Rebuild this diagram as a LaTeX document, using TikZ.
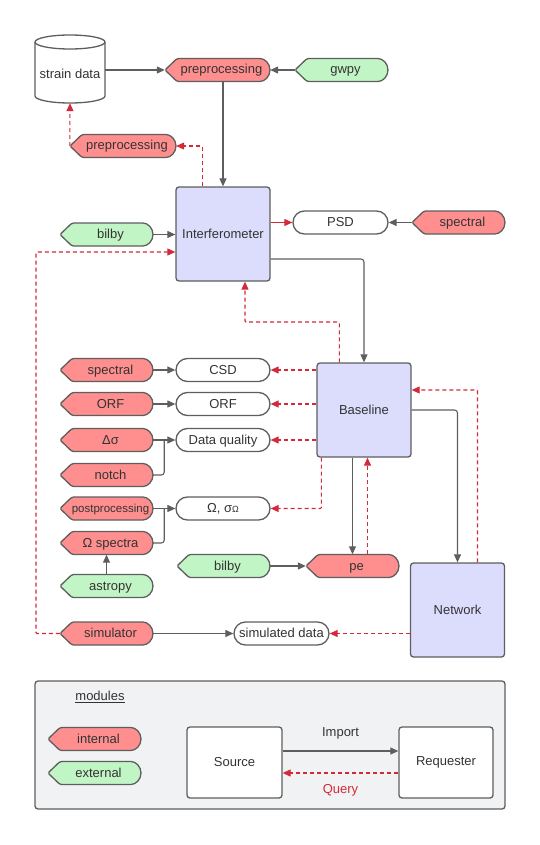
\documentclass[tikz,border=0pt]{standalone}
\usepackage{fontspec}
\setmainfont{Liberation Sans}
\usetikzlibrary{arrows.meta,calc}
\definecolor{edge}{HTML}{5E5E5E}
\definecolor{qred}{HTML}{D22A3A}
\definecolor{redf}{HTML}{FF8F8F}
\definecolor{greenf}{HTML}{C2F5C5}
\definecolor{lav}{HTML}{DCDCFD}
\definecolor{legbg}{HTML}{F1F2F4}
\definecolor{txt}{HTML}{333333}
\tikzset{
 tip/.style={-{Triangle[length=8pt,width=7pt]}},
 conn/.style={draw=edge, line width=1.1pt, tip, rounded corners=3pt},
 plain/.style={draw=edge, line width=1.1pt, rounded corners=3pt},
 query/.style={draw=qred, line width=1.1pt, dash pattern=on 4pt off 3pt, tip, rounded corners=1pt},
 qsolid/.style={draw=qred, line width=1.1pt, tip},
 outl/.style={draw=edge, line width=1.3pt},
 classbox/.style={outl, fill=lav, rounded corners=3pt, minimum width=94pt, minimum height=94pt, inner sep=0pt, text=txt},
 pill/.style={outl, fill=white, rounded corners=11.5pt, minimum width=94pt, minimum height=23pt, inner sep=0pt, text=txt, text height=10pt, text depth=2pt},
 modtext/.style={minimum height=23pt, inner sep=0pt, text=txt, text height=10pt, text depth=2pt},
 whitebox/.style={outl, fill=white, rounded corners=3pt, minimum width=95pt, minimum height=71pt, inner sep=0pt, text=txt}
}
\newcommand\mymodule[6]{%
 \draw[outl, fill=#5, rounded corners=1.5pt] (#2,#4) -- ({#2+12},{#4-11.5}) -- ({#3-11.5},{#4-11.5}) arc[start angle=90, end angle=-90, radius=11.5pt] -- ({#2+12},{#4+11.5}) -- cycle;
 \node[modtext, minimum width=(#3-#2)*1pt] (#1) at ({(#2+#3)/2},#4) {\hspace*{8pt}#6};
}
\begin{document}
\begin{tikzpicture}[x=1pt, y=-1pt, font=\fontsize{13}{15}\selectfont]
\useasboundingbox (0,0) rectangle (540,845);
% legend background
\node[outl, fill=legbg, rounded corners=3pt, minimum width=470pt, minimum height=128pt, inner sep=0pt] (legend) at (270,745) {};
% cylinder
\draw[outl, fill=white] (35,42) -- (35,96) arc[start angle=180,end angle=360,x radius=35pt,y radius=7pt] -- (105,42) arc[start angle=0,end angle=180,x radius=35pt,y radius=7pt] -- cycle;
\draw[outl] (35,42) arc[start angle=180,end angle=360,x radius=35pt,y radius=7pt];
\node[minimum width=70pt, minimum height=58pt, inner sep=0pt, text=txt] (strain) at (70,74) {strain data};
% modules
\mymodule{pp1}{165}{270}{70}{redf}{preprocessing}
\mymodule{gwpy}{295}{388}{70}{greenf}{gwpy}
\mymodule{pp2}{70}{176}{146}{redf}{preprocessing}
\mymodule{spec1}{412}{505}{222.5}{redf}{spectral}
\mymodule{bilby1}{60}{153}{234.5}{greenf}{bilby}
\mymodule{spec2}{60}{153}{370}{redf}{spectral}
\mymodule{orfm}{60}{153}{404}{redf}{ORF}
\mymodule{dsig}{60}{153}{440}{redf}{Δσ}
\mymodule{notch}{60}{153}{475}{redf}{notch}
\mymodule{post}{60}{153}{508.5}{redf}{\fontsize{11.5}{13}\selectfont postprocessing}
\mymodule{omspec}{60}{153}{543}{redf}{Ω spectra}
\mymodule{astropy}{60}{153}{586}{greenf}{astropy}
\mymodule{bilby2}{177}{270}{566}{greenf}{bilby}
\mymodule{pe}{306}{399}{566}{redf}{pe}
\mymodule{simulator}{60}{153}{633.5}{redf}{simulator}
\mymodule{internal}{48}{141}{739}{redf}{internal}
\mymodule{external}{48}{141}{773}{greenf}{external}
% class boxes
\node[classbox] (ifo) at (223,234) {Interferometer};
\node[classbox] (baseline) at (364,410) {Baseline};
\node[classbox] (network) at (457.5,610) {Network};
% pills
\node[pill, minimum width=95pt] (psd) at (340.5,222.5) {PSD};
\node[pill] (csd) at (223,370) {CSD};
\node[pill] (orf) at (223,404) {ORF};
\node[pill] (dq) at (223,440) {Data quality};
\node[pill] (omega) at (223,508.5) {Ω, σ{\fontsize{9}{9}\selectfont Ω}};
\node[pill, minimum width=95pt] (simdata) at (281.5,633.5) {simulated data};
% legend contents
\node[text=txt] (modlabel) at (100,697) {\underline{modules}};
\node[whitebox] (source) at (234.5,762.5) {Source};
\node[whitebox, minimum width=94pt] (requester) at (446,762.5) {Requester};
% bend coordinates
\coordinate (b1) at (245,322);
\coordinate (c2) at (36,252);
% connectors (solid)
\draw[conn] (strain.east |- pp1.west) -- (pp1.west);
\draw[conn] (gwpy.west) -- (pp1.east);
\draw[conn] (pp1.south -| ifo.north) -- (ifo.north);
\draw[conn] (spec1.west) -- (psd.east);
\draw[conn] (bilby1.east) -- (bilby1.east -| ifo.west);
\draw[conn] ([yshift=-25pt]ifo.east) -| (baseline.north);
\draw[conn] (spec2.east) -- (csd.west);
\draw[conn] (orfm.east) -- (orf.west);
\draw[conn] (dsig.east) -- (dq.west);
\draw[plain] (notch.east) -| ($(dsig.east)!0.5!(dq.west)$);
\draw[conn] (post.east) -- (omega.west);
\draw[plain] (omspec.east) -| ($(post.east)!0.5!(omega.west)$);
\draw[conn] (astropy.north) -- (omspec.south);
\draw[conn] (bilby2.east) -- (pe.west);
\draw[conn] (baseline.south -| pe.north) -- (pe.north);
\draw[conn] (baseline.east) -| (network.north);
\draw[conn] (simulator.east) -- (simdata.west);
\draw[conn] ([yshift=11.5pt]source.east) -- node[midway, above=8pt, text=txt] (importlbl) {Import} ([yshift=11.5pt]requester.west);
% connectors (query)
\draw[qsolid] (ifo.east |- psd.west) -- (psd.west);
\draw[query] ([xshift=27pt]ifo.north west) |- (pp2.east);
\draw[query] (pp2.west) -- (strain.south);
\draw[query] ([xshift=23pt]baseline.north west) |- (b1) -- (b1 |- ifo.south);
\draw[query] (csd.east -| baseline.west) -- (csd.east);
\draw[query] (orf.east -| baseline.west) -- (orf.east);
\draw[query] (dq.east -| baseline.west) -- (dq.east);
\draw[query] ([xshift=5pt]baseline.south west) |- (omega.east);
\draw[query] ([xshift=15pt]pe.north) -- ([xshift=15pt]pe.north |- baseline.south);
\draw[query] ([xshift=20pt]network.north) |- ([yshift=20pt]baseline.east);
\draw[query] (simdata.east -| network.west) -- (simdata.east);
\draw[query] (simulator.west) -| (c2) -- (c2 -| ifo.west);
\draw[query] ([yshift=-10.5pt]requester.west) -- node[midway, below=8pt, text=qred] (querylbl) {Query} ([yshift=-10.5pt]source.east);
\end{tikzpicture}
\end{document}
